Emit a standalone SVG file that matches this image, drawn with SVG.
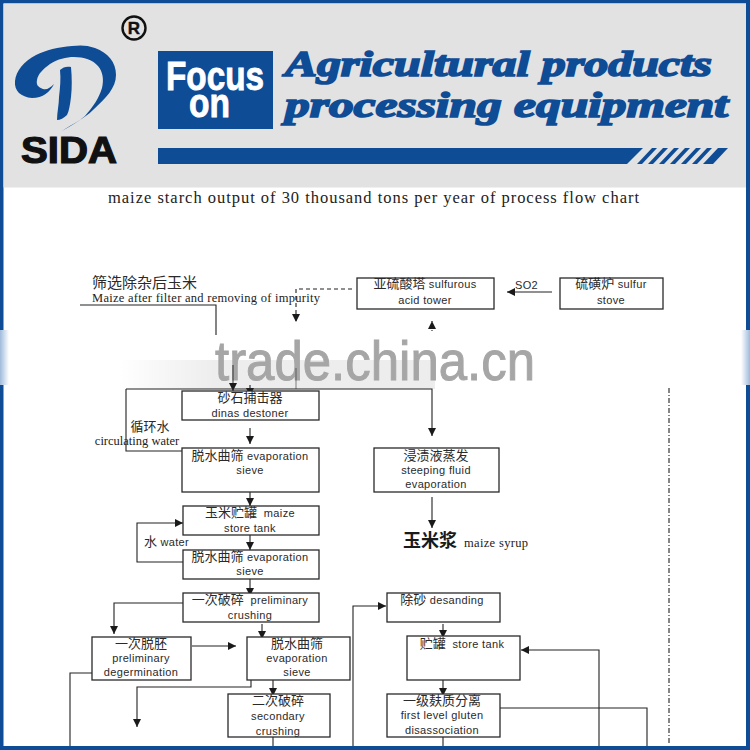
<svg xmlns="http://www.w3.org/2000/svg" width="750" height="750" viewBox="0 0 750 750">
<style>
.box{fill:#fff;stroke:#2a2a2a;stroke-width:1.3}
.ln{fill:none;stroke:#222;stroke-width:1.1}
.t{font-family:"Liberation Sans","Noto Sans CJK SC",sans-serif;font-size:11px;fill:#2a2a2a;text-anchor:middle;letter-spacing:.35px}
.k{font-size:13px;letter-spacing:0}
.c{font-size:13px;letter-spacing:0}
.s{font-family:"Liberation Serif","Noto Sans CJK SC",serif;font-size:12.5px;fill:#222}
.hd{font-family:"Liberation Serif",serif;font-weight:bold;font-style:italic;fill:#0f4c96;stroke:#0f4c96;stroke-width:1.7;font-size:36px}
.fo{font-family:"Liberation Sans",sans-serif;font-weight:bold;fill:#fff;stroke:#fff;stroke-width:.9;font-size:41px}
</style>
<defs>
<marker id="a" markerWidth="9" markerHeight="8" refX="8" refY="4" orient="auto" markerUnits="userSpaceOnUse"><path d="M0 0L8 4L0 8Z" fill="#1a1a1a"/></marker>
<linearGradient id="gl" x1="0" x2="1" y1="0" y2="0"><stop offset="0" stop-color="#9fbbdc"/><stop offset="1" stop-color="#fff"/></linearGradient>
<linearGradient id="gr" x1="1" x2="0" y1="0" y2="0"><stop offset="0" stop-color="#9fbbdc"/><stop offset="1" stop-color="#fff"/></linearGradient>
<linearGradient id="band" x1="0" x2="1" y1="0" y2="0"><stop offset="0" stop-color="#fff"/><stop offset=".3" stop-color="#ededed"/><stop offset="1" stop-color="#ededed"/></linearGradient>
</defs>
<rect width="750" height="750" fill="#fff"/>
<g id="frame">
<rect x="0" y="0" width="750" height="3.5" fill="#0f4c96"/>
<rect x="0" y="0" width="3.5" height="750" fill="#0f4c96"/>
<rect x="746" y="0" width="4" height="750" fill="#0f4c96"/>
<rect x="0" y="746" width="750" height="4" fill="#0f4c96"/>
<rect x="3.5" y="3.5" width="742.5" height="184" fill="#e2e2e2"/>
<rect x="0" y="330" width="9" height="55" fill="url(#gl)"/>
<rect x="741" y="330" width="9" height="55" fill="url(#gr)"/>
</g>
<g id="logo">
<path fill="#0f4c96" d="M62 131C72 124 84 119 93 110C106 98 116 88 116 75C116 62 108 53 95 48C87 45 80 45 72 46C58 47 46 50 36 55C24 61 16 71 15 81C14 91 21 97 32 98C43 98 50 92 54 84C50 88 47 90 43 89C38 87 36 85 37 80C38 74 43 69 50 64C58 59 66 57 74 57C84 57 93 60 98 66C103 72 104 80 102 88C99 98 93 107 85 116C78 122 70 126 62 131Z"/>
<path fill="#0f4c96" d="M60 70C63 67 67 66 71 67C72 78 72 88 71 97C70 105 69 111 67 115C64 118 60 120 57 120C57 112 59 105 59 97C60 88 61 79 60 70Z"/>
<text x="69" y="163" style="font-family:'Liberation Sans',sans-serif;font-weight:bold;font-size:36px;text-anchor:middle" fill="#111" stroke="#111" stroke-width="1.2" textLength="96" lengthAdjust="spacingAndGlyphs">SIDA</text>
<circle cx="134" cy="28" r="11.5" fill="none" stroke="#111" stroke-width="2.4"/>
<text x="134" y="34" style="font-family:'Liberation Sans',sans-serif;font-weight:bold;font-size:17px;text-anchor:middle" fill="#111" stroke="#111" stroke-width=".4">R</text>
</g>
<g id="banner">
<rect x="158" y="51" width="115" height="78" fill="#0f4c96"/>
<text class="fo" x="166" y="90" textLength="98" lengthAdjust="spacingAndGlyphs">Focus</text>
<text class="fo" x="189" y="117" textLength="41" lengthAdjust="spacingAndGlyphs">on</text>
<text class="hd" x="285" y="76" textLength="427" lengthAdjust="spacingAndGlyphs">Agricultural products</text>
<text class="hd" x="285" y="117" textLength="443" lengthAdjust="spacingAndGlyphs">processing equipment</text>
<path fill="#0f4c96" d="M158 148H643L627 164H158Z"/>
<path fill="#0f4c96" d="M652 148h5l-15 16h-5ZM663 148h5l-15 16h-5ZM674 148h5l-15 16h-5ZM685 148h5l-15 16h-5ZM696 148h5l-15 16h-5ZM707 148h5l-15 16h-5ZM718 148h10l-15 16h-10Z"/>
</g>
<text x="108" y="203" style="font-family:'Liberation Serif',serif;font-size:16.5px" fill="#222" textLength="531">maize starch output of 30 thousand tons per year of process flow chart</text>
<rect x="120" y="360" width="315" height="29" fill="url(#band)"/>
<text x="215" y="380" style="font-family:'Liberation Sans',sans-serif;font-size:56px" fill="#a6a6a6" stroke="#a6a6a6" stroke-width="1" textLength="320" lengthAdjust="spacingAndGlyphs">trade.china.cn</text>
<g id="connectors">
<path class="ln" d="M80 305H216V335"/>
<path class="ln" d="M233 365V391" stroke-opacity=".8" marker-end="url(#a)"/>
<path class="ln" d="M250 385V396" marker-end="url(#a)"/>
<path class="ln" d="M352 289H296V322" stroke-dasharray="4 3" marker-end="url(#a)"/>
<path class="ln" d="M296 368V389" stroke-opacity=".5"/>
<path class="ln" d="M126 389H432V436" marker-end="url(#a)"/>
<path class="ln" d="M182 451H126V389"/>
<path class="ln" d="M432 331V321" stroke-dasharray="1 2" marker-end="url(#a)"/>
<path class="ln" d="M552 292H507" marker-end="url(#a)"/>
<path class="ln" d="M250 428V444" marker-end="url(#a)"/>
<path class="ln" d="M250 492V506" marker-end="url(#a)"/>
<path class="ln" d="M250 528V550" marker-end="url(#a)"/>
<path class="ln" d="M250 579V596" marker-end="url(#a)"/>
<path class="ln" d="M432 497V528" marker-end="url(#a)"/>
<path class="ln" d="M183 562H137V523H183" marker-end="url(#a)"/>
<path class="ln" d="M183 603H114V634" marker-end="url(#a)"/>
<path class="ln" d="M262 624V639" marker-end="url(#a)"/>
<path class="ln" d="M192 646H236" marker-end="url(#a)"/>
<path class="ln" d="M92 673H70V746"/>
<path class="ln" d="M251 680V687H137V727" marker-end="url(#a)"/>
<path class="ln" d="M273 680V696" marker-end="url(#a)"/>
<path class="ln" d="M273 737V746"/>
<path class="ln" d="M353 746V606H386" marker-end="url(#a)"/>
<path class="ln" d="M443 624V638" marker-end="url(#a)"/>
<path class="ln" d="M443 680V696" marker-end="url(#a)"/>
<path class="ln" d="M443 737V746"/>
<path class="ln" d="M599 746V650H521" marker-end="url(#a)"/>
<path class="ln" d="M500 708H647V746"/>
<path class="ln" d="M669 388V745" stroke-dasharray="5 2 1 2"/>
</g>
<g id="feed">
<text x="92" y="288" class="t c" style="text-anchor:start;font-size:15px">筛选除杂后玉米</text>
<text x="92" y="302" class="s" textLength="228">Maize after filter and removing of impurity</text>
</g>
<g id="sulfurous-tower"><rect class="box" x="357" y="278" width="137" height="31"/><text x="425" y="288" class="t"><tspan class="k">亚硫酸塔</tspan> sulfurous</text><text x="425" y="304" class="t">acid tower</text></g>
<g id="sulfur-stove"><rect class="box" x="560" y="278" width="103" height="31"/><text x="611" y="288" class="t"><tspan class="k">硫磺炉</tspan> sulfur</text><text x="611" y="304" class="t">stove</text></g>
<text x="515" y="289" class="t" style="text-anchor:start">SO2</text>
<g id="destoner"><rect class="box" x="182" y="391" width="137" height="29"/><text x="250" y="402" class="t c">砂石捕击器</text><text x="250" y="417" class="t">dinas destoner</text></g>
<g id="water-label"><text x="150" y="431" class="t c">循环水</text><text x="137" y="445" class="s" style="text-anchor:middle">circulating water</text></g>
<g id="sieve1"><rect class="box" x="182" y="448" width="137" height="44"/><text x="250" y="460" class="t"><tspan class="k">脱水曲筛</tspan> evaporation</text><text x="250" y="474" class="t">sieve</text></g>
<g id="steeping"><rect class="box" x="374" y="448" width="125" height="44"/><text x="436" y="460" class="t c">浸渍液蒸发</text><text x="436" y="474" class="t">steeping fluid</text><text x="436" y="488" class="t">evaporation</text></g>
<g id="syrup"><text x="403" y="547" style="font-family:'Noto Sans CJK SC',sans-serif;font-weight:bold;font-size:18px" fill="#1a1a1a">玉米浆</text><text x="464" y="547" class="s" textLength="64">maize syrup</text></g>
<g id="tank1"><rect class="box" x="183" y="506" width="136" height="29"/><text x="250" y="517" class="t"><tspan class="k">玉米贮罐</tspan>&#160;&#160;maize</text><text x="250" y="532" class="t">store tank</text></g>
<text x="144" y="546" class="t" style="text-anchor:start"><tspan class="k">水</tspan> water</text>
<g id="sieve2"><rect class="box" x="183" y="550" width="136" height="29"/><text x="250" y="561" class="t"><tspan class="k">脱水曲筛</tspan> evaporation</text><text x="250" y="575" class="t">sieve</text></g>
<g id="crush1"><rect class="box" x="183" y="593" width="136" height="29"/><text x="250" y="604" class="t"><tspan class="k">一次破碎</tspan>&#160;&#160;preliminary</text><text x="250" y="619" class="t">crushing</text></g>
<g id="degerm"><rect class="box" x="92" y="637" width="99" height="43"/><text x="141" y="648" class="t c">一次脱胚</text><text x="141" y="662" class="t">preliminary</text><text x="141" y="676" class="t">degermination</text></g>
<g id="sieve3"><rect class="box" x="247" y="637" width="103" height="43"/><text x="297" y="648" class="t c">脱水曲筛</text><text x="297" y="662" class="t">evaporation</text><text x="297" y="676" class="t">sieve</text></g>
<g id="crush2"><rect class="box" x="228" y="694" width="102" height="43"/><text x="278" y="705" class="t c">二次破碎</text><text x="278" y="720" class="t">secondary</text><text x="278" y="735" class="t">crushing</text></g>
<g id="desanding"><rect class="box" x="387" y="593" width="113" height="29"/><text x="442" y="604" class="t"><tspan class="k">除砂</tspan> desanding</text></g>
<g id="tank2"><rect class="box" x="407" y="636" width="113" height="44"/><text x="462" y="648" class="t"><tspan class="k">贮罐</tspan>&#160;&#160;store tank</text></g>
<g id="gluten1"><rect class="box" x="387" y="694" width="113" height="43"/><text x="442" y="705" class="t c">一级麸质分离</text><text x="442" y="719" class="t">first level gluten</text><text x="442" y="734" class="t">disassociation</text></g>
</svg>
